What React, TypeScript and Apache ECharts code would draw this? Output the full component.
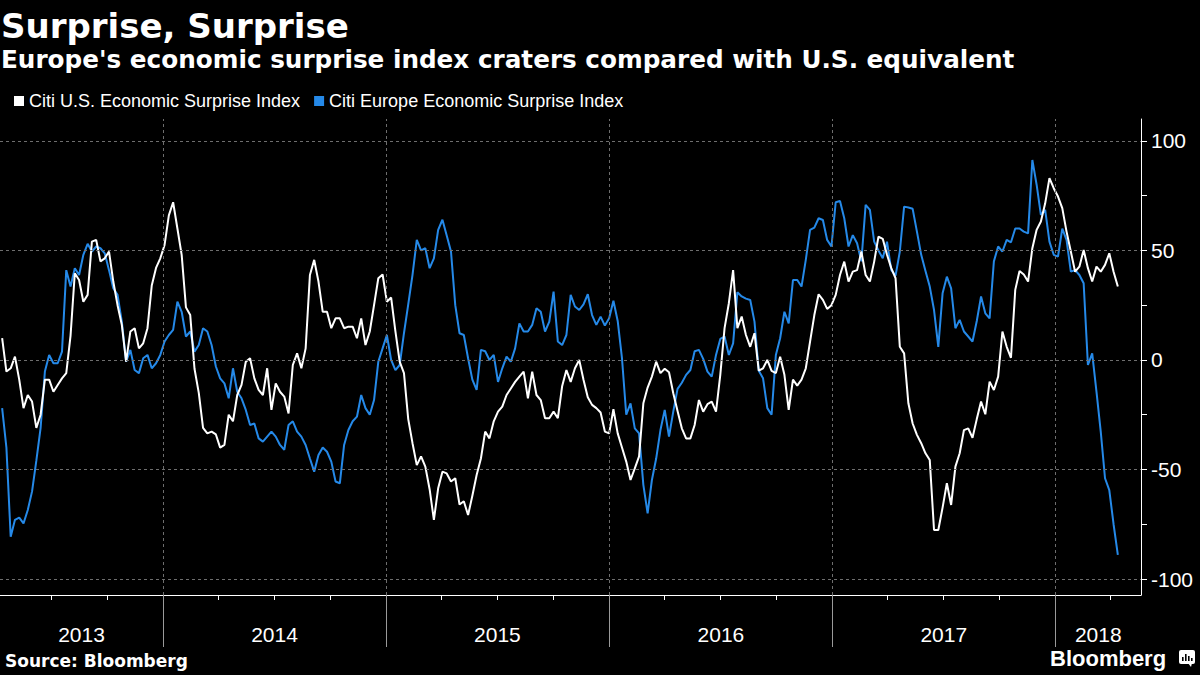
import React, { useEffect, useRef } from "react";
import * as echarts from "echarts";

// ---- Data (weekly readings, Fridays) ----
const WEEKS_BY_MONTH: [string, number[]][] = [
  ["2013-04", [12, 19, 26]], ["2013-05", [3, 10, 17, 24, 31]], ["2013-06", [7, 14, 21, 28]],
  ["2013-07", [5, 12, 19, 26]], ["2013-08", [2, 9, 16, 23, 30]], ["2013-09", [6, 13, 20, 27]],
  ["2013-10", [4, 11, 18, 25]], ["2013-11", [1, 8, 15, 22, 29]], ["2013-12", [6, 13, 20, 27]],
  ["2014-01", [3, 10, 17, 24, 31]], ["2014-02", [7, 14, 21, 28]], ["2014-03", [7, 14, 21, 28]],
  ["2014-04", [4, 11, 18, 25]], ["2014-05", [2, 9, 16, 23, 30]], ["2014-06", [6, 13, 20, 27]],
  ["2014-07", [4, 11, 18, 25]], ["2014-08", [1, 8, 15, 22, 29]], ["2014-09", [5, 12, 19, 26]],
  ["2014-10", [3, 10, 17, 24, 31]], ["2014-11", [7, 14, 21, 28]], ["2014-12", [5, 12, 19, 26]],
  ["2015-01", [2, 9, 16, 23, 30]], ["2015-02", [6, 13, 20, 27]], ["2015-03", [6, 13, 20, 27]],
  ["2015-04", [3, 10, 17, 24]], ["2015-05", [1, 8, 15, 22, 29]], ["2015-06", [5, 12, 19, 26]],
  ["2015-07", [3, 10, 17, 24, 31]], ["2015-08", [7, 14, 21, 28]], ["2015-09", [4, 11, 18, 25]],
  ["2015-10", [2, 9, 16, 23, 30]], ["2015-11", [6, 13, 20, 27]], ["2015-12", [4, 11, 18, 25]],
  ["2016-01", [1, 8, 15, 22, 29]], ["2016-02", [5, 12, 19, 26]], ["2016-03", [4, 11, 18, 25]],
  ["2016-04", [1, 8, 15, 22, 29]], ["2016-05", [6, 13, 20, 27]], ["2016-06", [3, 10, 17, 24]],
  ["2016-07", [1, 8, 15, 22, 29]], ["2016-08", [5, 12, 19, 26]], ["2016-09", [2, 9, 16, 23, 30]],
  ["2016-10", [7, 14, 21, 28]], ["2016-11", [4, 11, 18, 25]], ["2016-12", [2, 9, 16, 23, 30]],
  ["2017-01", [6, 13, 20, 27]], ["2017-02", [3, 10, 17, 24]], ["2017-03", [3, 10, 17, 24, 31]],
  ["2017-04", [7, 14, 21, 28]], ["2017-05", [5, 12, 19, 26]], ["2017-06", [2, 9, 16, 23, 30]],
  ["2017-07", [7, 14, 21, 28]], ["2017-08", [4, 11, 18, 25]], ["2017-09", [1, 8, 15, 22, 29]],
  ["2017-10", [6, 13, 20, 27]], ["2017-11", [3, 10, 17, 24]], ["2017-12", [1, 8, 15, 22, 29]],
  ["2018-01", [5, 12, 19, 26]], ["2018-02", [2, 9, 16, 23]], ["2018-03", [2, 9, 16, 23, 30]],
  ["2018-04", [6, 13]],
];

const US_INDEX: number[] = [
  // Apr 2013 - Feb 2014
  10, -5.3, -3.8, 1.5, -9, -22, -16, -19, -31, -25, -9, -9, -14.5, -11.4, -8.4, -6, 11, 39.6, 36.5, 26.6,
  29.7, 54, 54.8, 45, 46.4, 49.5, 35.8, 25, 16, -0.8, 13, 14.5, 5.3, 7.6, 14.5, 34, 42, 46.4, 52.5, 66,
  72, 60, 48, 24, 20.5, -4, -15,
  // Mar 2014 - Dec 2014
  -31, -33.5, -32.7, -34, -40, -38.8, -25, -28, -16, -11.4, -0.8, 0.8, -8.4, -13.7, -16, -3.8, -22.8, -10.7, -14.5, -16.7,
  -24.4, -2.3, 3, -3.8, 5.3, 38.8, 45.7, 35.8, 22, 22, 14.5, 19, 19, 14.5, 15.2, 15.2, 9.9, 19, 6.8, 13,
  25, 37.3, 39, 26.6,
  // Jan 2015 - Nov 2015
  28.5, 13, -0.8, -6, -27, -38, -48, -44, -48.7, -59, -73, -58.6, -51, -51.8, -55.5, -54, -66, -64.5, -70.8, -62,
  -52.5, -45, -32.7, -35.8, -28, -23.6, -21.3, -16, -13, -10, -7.6, -5.3, -17.5, -5.3, -16, -18.3, -26.6, -26.6, -23.6, -26.6,
  -12, -4.6, -10, -3.8, 0,
  // Dec 2015 - Oct 2016
  -9, -17, -20.5, -22, -24, -32.7, -33.5, -22.5, -33.5, -40, -46.4, -54.8, -49.5, -44, -19.8, -12.6, -7.6, -0.8, -6, -4,
  -5.6, -15.2, -23.3, -31.2, -35.8, -35.8, -29.7, -18.3, -23.6, -20.2, -19, -23.6, -6.8, 14.5, 25.9, 41, 14.5, 19.8, 11.4, 6,
  12.2, -4.9, -3.8, 0,
  // Oct 2016 - Aug 2017
  -5, -6, 1.5, -6.8, -22.8, -9, -11.7, -9, -3.8, 8.4, 20.5, 30, 27.4, 23.3, 25, 29.7, 38.8, 44.9, 35.8, 40.3,
  41, 49.5, 38.8, 35.8, 44.9, 56.3, 55.3, 48, 41.9, 37.3, 6, 3, -19.8, -29, -34.2, -38, -42.6, -45.7, -77.6, -77.6,
  -67.4, -56.3, -66.2, -48.7,
  // Aug 2017 - Apr 2018
  -42.6, -32, -31.2, -35.5, -27, -19, -24.8, -9.9, -13.7, -7.6, 13, 6, 1, 32, 40.6, 39, 35.8, 51, 59.4, 63.2,
  71.5, 83, 78.4, 74.6, 69.3, 58.6, 49.5, 40.3, 42.6, 50.2, 41.9, 35.8, 42.6, 40.3, 43.4, 48.7, 40.3, 33.5,
];

const EUROPE_INDEX: number[] = [
  // Apr 2013 - Feb 2014
  -22, -40, -80.7, -73, -72, -74.6, -68.5, -60, -46, -31, -5.3, 2.3, -1.5, -1.5, 3.8, 41, 33.5, 41.9, 38.8, 48,
  53, 49.5, 51.8, 51, 48.7, 41, 32.7, 29.7, 17.5, -0.8, 4.6, -4.6, -6, 0.8, 2.3, -3.8, -1.5, 2.3, 8.4, 11.4,
  13.7, 26.6, 22, 10.7, 13, 3.8, 6.8,
  // Mar 2014 - Dec 2014
  14.5, 13, 6.8, -3, -8.4, -10.7, -17.5, -3.8, -14.5, -17.5, -22.8, -29.7, -29, -35.8, -37.3, -35, -32.7, -35, -38.8, -41,
  -29.7, -28, -32.7, -35, -38.8, -45, -51, -43.4, -40, -41.9, -46.4, -55.5, -56.3, -38.8, -32, -28, -25.9, -16, -22, -25,
  -18.3, -0.8, 5.3, 11.4,
  // Jan 2015 - Nov 2015
  0, -4.6, -2.3, 12.2, 25.4, 38.8, 54.8, 50, 51, 41.9, 46.4, 59.4, 64, 56.8, 49.5, 25, 12.2, 11.4, 0.8, -9,
  -13.7, 4.6, 4, 0, 2.3, -10, -3.8, 1.5, -0.8, 5.3, 16.7, 13, 13, 16, 23.6, 22, 13, 17.5, 31.2, 8.4,
  6.8, 11.4, 29.7, 24.4, 22.8,
  // Dec 2015 - Oct 2016
  25.4, 30, 20.5, 16, 19.8, 15.7, 19, 27, 17.8, 0.8, -25, -19.8, -31.2, -33.5, -57, -70, -54.8, -45, -32, -22.8,
  -35, -23.6, -13.2, -10.4, -6.8, -4.6, 4, 4.6, 0.5, -5.3, -7.6, 2.3, 9.6, 10.7, 2.3, 7.6, 30.9, 29, 28, 27.4,
  17.5, -4.9, -8.4, -22,
  // Oct 2016 - Aug 2017
  -25, 2.3, 9.9, 22, 16.7, 36.5, 36.5, 33.5, 45.7, 59.4, 60.4, 64.7, 63.9, 54.8, 51.8, 72, 72.6, 64.7, 51.8, 57,
  53.3, 45, 70.8, 68.5, 54, 50, 46.4, 54, 41, 38.5, 49.5, 70, 69.6, 69, 58.6, 48, 40.6, 33.5, 22.8, 6,
  30.4, 38, 32.7, 14.5,
  // Aug 2017 - Apr 2018
  18.3, 13, 10.7, 8.4, 17.8, 29, 21.3, 19, 45, 51.8, 49.5, 54.8, 53.7, 60, 60, 58.6, 57.8, 91.3, 80, 66.2,
  68.5, 54, 48, 47.2, 60, 54.8, 40.3, 41, 38.8, 35, -2.3, 3, -14.5, -32.7, -54, -59.4, -75, -89,
];

const SERIES_NAMES = ["Citi U.S. Economic Surprise Index", "Citi Europe Economic Surprise Index"];
const YEAR_STARTS = ["2014-01-01", "2015-01-01", "2016-01-01", "2017-01-01", "2018-01-01"];
const QUARTER_TICKS = [
  "2013-07-01", "2013-10-01", "2014-04-01", "2014-07-01", "2014-10-01", "2015-04-01", "2015-07-01",
  "2015-10-01", "2016-04-01", "2016-07-01", "2016-10-01", "2017-04-01", "2017-07-01", "2017-10-01", "2018-04-01",
];
const YEAR_LABELS: [string, string][] = [
  ["2013", "2013-08-20"], ["2014", "2014-07-02"], ["2015", "2015-07-02"],
  ["2016", "2016-07-02"], ["2017", "2017-07-02"], ["2018", "2018-03-12"],
];
const Y_LABELS = [-100, -50, 0, 50, 100];
const Y_TICKS = [-100, -75, -50, -25, 0, 25, 50, 75, 100];

const WHITE = "#ffffff";
const BLUE = "#2589e8";
const SANS = '"Liberation Sans", Arial, sans-serif';
const BOLD = '"DejaVu Sans", sans-serif';

const ts = (s: string) => {
  const [y, m, d] = s.split("-").map(Number);
  return new Date(y, m - 1, d).getTime();
};

export default function App() {
  const ref = useRef<HTMLDivElement>(null);

  useEffect(() => {
    if (!ref.current) return;
    const chart = echarts.init(ref.current, undefined, { renderer: "svg" });

    const dates: string[] = [];
    WEEKS_BY_MONTH.forEach(([m, days]) => days.forEach((d) => dates.push(`${m}-${String(d).padStart(2, "0")}`)));
    const usData = dates.map((d, i) => [ts(d), US_INDEX[i]]);
    const euData = dates.map((d, i) => [ts(d), EUROPE_INDEX[i]]);

    const xMin = new Date(2013, 3, 8, 12).getTime();
    const xMax = new Date(2018, 4, 20, 22).getTime();
    const labelPos = YEAR_LABELS.map(([, p]) => ts(p));
    const labelFor = (v: number) => {
      const i = labelPos.findIndex((p) => Math.abs(p - v) < 86400000);
      return i >= 0 ? YEAR_LABELS[i][0] : "";
    };

    const gridStyle = { color: "#6e6e6e", type: [3, 3] as any, width: 1 };

    chart.setOption({
      animation: false,
      backgroundColor: "#000000",
      grid: { left: 0, right: 59, top: 119, bottom: 80, containLabel: false },
      legend: {
        data: SERIES_NAMES,
        left: 9,
        top: 87,
        icon: "rect",
        itemWidth: 10,
        itemHeight: 10,
        itemGap: 14,
        textStyle: { color: WHITE, fontSize: 18, fontFamily: SANS },
        selectedMode: false,
      },
      xAxis: [
        {
          type: "value",
          min: xMin,
          max: xMax,
          axisLine: { show: true, onZero: false, lineStyle: { color: WHITE, width: 1 } },
          axisTick: {
            show: true,
            customValues: QUARTER_TICKS.map(ts),
            length: 5,
            lineStyle: { color: WHITE, width: 1 },
          },
          axisLabel: {
            show: true,
            customValues: labelPos,
            formatter: (v: number) => labelFor(v),
            color: WHITE,
            fontSize: 21,
            fontFamily: SANS,
            margin: 29,
          },
          splitLine: { show: false },
        },
        {
          type: "value",
          min: xMin,
          max: xMax,
          position: "bottom",
          axisLine: { show: false, onZero: false },
          axisTick: {
            show: true,
            customValues: YEAR_STARTS.map(ts),
            length: 52,
            lineStyle: { color: "#9a9a9a", width: 1 },
          },
          axisLabel: { show: false },
          splitLine: { show: false },
        },
      ],
      yAxis: {
        type: "value",
        position: "right",
        min: -107.3,
        max: 110,
        axisLine: { show: true, onZero: false, lineStyle: { color: WHITE, width: 1 } },
        axisTick: { show: true, customValues: Y_TICKS, length: 6, lineStyle: { color: WHITE, width: 1 } },
        axisLabel: {
          show: true,
          customValues: Y_LABELS,
          color: WHITE,
          fontSize: 21,
          fontFamily: SANS,
          margin: 10,
        },
        splitLine: { show: false },
      },
      graphic: [
        {
          type: "text",
          x: 1,
          y: 26,
          style: {
            text: "Surprise, Surprise",
            fill: WHITE,
            fontSize: 34,
            fontWeight: "bold",
            fontFamily: BOLD,
            verticalAlign: "middle",
            textVerticalAlign: "middle",
          },
        },
        {
          type: "text",
          x: 1,
          y: 59,
          style: {
            text: "Europe's economic surprise index craters compared with U.S. equivalent",
            fill: WHITE,
            fontSize: 24.7,
            fontWeight: "bold",
            fontFamily: BOLD,
            verticalAlign: "middle",
            textVerticalAlign: "middle",
          },
        },
        {
          type: "text",
          x: 5,
          y: 661,
          style: {
            text: "Source: Bloomberg",
            fill: WHITE,
            fontSize: 17,
            fontWeight: "bold",
            fontFamily: BOLD,
            verticalAlign: "middle",
            textVerticalAlign: "middle",
          },
        },
        {
          type: "text",
          x: 1050,
          y: 658,
          style: {
            text: "Bloomberg",
            fill: WHITE,
            fontSize: 22,
            fontWeight: "bold",
            fontFamily: SANS,
            verticalAlign: "middle",
            textVerticalAlign: "middle",
          },
        },
        {
          type: "group",
          x: 1179,
          y: 650,
          children: [
            { type: "rect", shape: { x: 0, y: 0, width: 16, height: 14, r: 2 }, style: { fill: WHITE } },
            { type: "polygon", shape: { points: [[9, 13], [13, 13], [12, 17]] }, style: { fill: WHITE } },
            { type: "rect", shape: { x: 3, y: 7, width: 1.6, height: 4 }, style: { fill: "#000" } },
            { type: "rect", shape: { x: 6, y: 4, width: 1.6, height: 7 }, style: { fill: "#000" } },
            { type: "rect", shape: { x: 9, y: 6, width: 1.6, height: 5 }, style: { fill: "#000" } },
            { type: "rect", shape: { x: 12, y: 8, width: 1.6, height: 3 }, style: { fill: "#000" } },
          ],
        },
      ],
      series: [
        {
          name: "grid",
          type: "line",
          data: [],
          z: 1,
          silent: true,
          markLine: {
            silent: true,
            symbol: ["none", "none"],
            label: { show: false },
            lineStyle: gridStyle,
            emphasis: { disabled: true },
            data: [
              ...Y_LABELS.map((v) => ({ yAxis: v })),
              ...YEAR_STARTS.map((d) => ({ xAxis: ts(d) })),
            ],
          },
        },
        {
          name: SERIES_NAMES[1],
          type: "line",
          data: euData,
          showSymbol: false,
          z: 3,
          lineStyle: { color: BLUE, width: 2 },
          itemStyle: { color: BLUE },
        },
        {
          name: SERIES_NAMES[0],
          type: "line",
          data: usData,
          showSymbol: false,
          z: 4,
          lineStyle: { color: WHITE, width: 2 },
          itemStyle: { color: WHITE },
        },
      ],
    });

    return () => chart.dispose();
  }, []);

  return (
    <div
      ref={ref}
      style={{ position: "absolute", left: 0, top: 0, width: 1200, height: 675, background: "#000" }}
    />
  );
}
